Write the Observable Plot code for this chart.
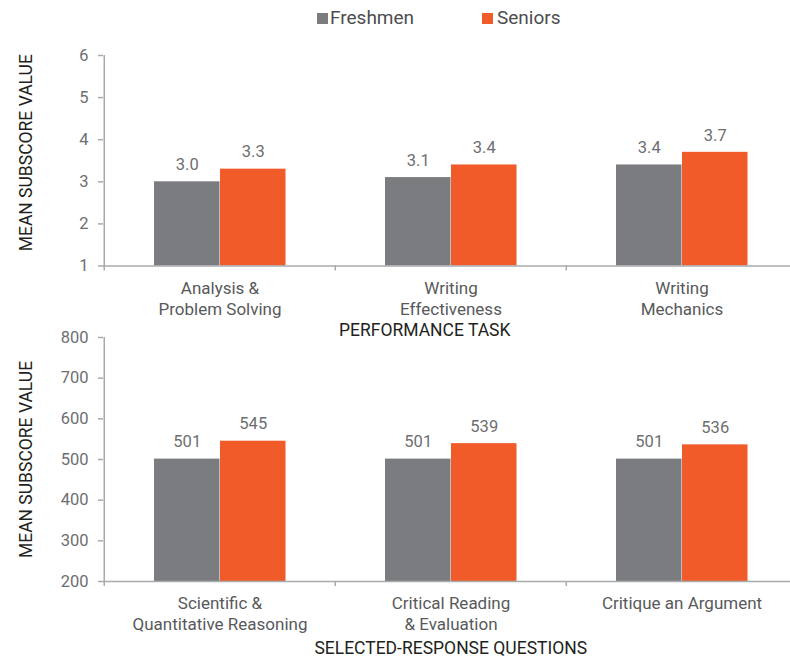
<!DOCTYPE html>
<html><head><meta charset="utf-8">
<script src="https://cdn.jsdelivr.net/npm/d3@7"></script>
<script src="https://cdn.jsdelivr.net/npm/@observablehq/plot@0.6"></script>
<style>
body{margin:0;background:#fff;width:790px;height:657px;overflow:hidden;position:relative;font-family:Roboto,sans-serif}
#legend{position:absolute;top:0;left:0;width:790px;height:35px;z-index:2}
.sw{position:absolute;top:13px;width:11px;height:11px}
.lt{position:absolute;top:6px;font-size:19px;color:#4d4d4f;line-height:23px}
svg{display:block}
</style></head><body>
<div id="legend"></div>
<div id="c1"></div><div id="c2"></div>
<script>
const series = ["Freshmen", "Seniors"];
const colors = ["#7b7c80", "#f15a29"];
const ptCategories = ["Analysis &\nProblem Solving", "Writing\nEffectiveness", "Writing\nMechanics"];
const ptFreshmen = [3.0, 3.1, 3.4];
const ptSeniors = [3.3, 3.4, 3.7];
const ptTicks = [1, 2, 3, 4, 5, 6];
const srCategories = ["Scientific &\nQuantitative Reasoning", "Critical Reading\n& Evaluation", "Critique an Argument"];
const srFreshmen = [501, 501, 501];
const srSeniors = [545, 539, 536];
const srTicks = [200, 300, 400, 500, 600, 700, 800];
const ptTitle = "PERFORMANCE TASK";
const srTitle = "SELECTED-RESPONSE QUESTIONS";
const yTitle = "MEAN SUBSCORE VALUE";

// legend
const legendPos = [[317, 330], [482, 497]];
const lg = document.getElementById("legend");
series.forEach((s, k) => {
  const sw = document.createElement("div");
  sw.className = "sw"; sw.style.left = legendPos[k][0] + "px"; sw.style.background = colors[k];
  const t = document.createElement("div");
  t.className = "lt"; t.style.left = legendPos[k][1] + "px"; t.textContent = s;
  lg.appendChild(sw); lg.appendChild(t);
});

const AX = "#a9aaad";
function chart(o) {
  const W = 790, ML = 103, MR = -7.5;
  const cats = o.cats;
  const bw = (W - ML - MR) / cats.length;
  const barW = 66, gap0 = 50;
  const insets = [[gap0, bw - gap0 - barW], [gap0 + barW, bw - gap0 - 2 * barW]];
  const vals = [o.fr, o.sr];
  const y0 = o.ticks[0], y1 = o.ticks[o.ticks.length - 1];
  const marks = [];
  series.forEach((s, k) => {
    const data = cats.map((c, i) => ({cat: c, value: vals[k][i]}));
    marks.push(Plot.barY(data, {x: "cat", y1: y0, y2: "value", fill: colors[k], insetLeft: insets[k][0], insetRight: insets[k][1]}));
    marks.push(Plot.text(data, {x: "cat", y: "value", text: d => o.fmt(d.value), dx: (insets[k][0] - insets[k][1]) / 2, dy: -17, fill: "#6d6e71", fontSize: 16.5}));
  });
  marks.push(Plot.ruleY([y0], {stroke: AX, strokeWidth: 1.5}));
  marks.push(Plot.ruleX([cats[0]], {x: d => d, y1: y1, y2: y0, dx: -bw / 2, insetBottom: -5, stroke: AX, strokeWidth: 1.5}));
  marks.push(Plot.ruleX(cats.slice(1), {x: d => d, y1: y0, y2: y0, dx: -bw / 2, insetBottom: -5, stroke: AX, strokeWidth: 1.5}));
  marks.push(Plot.axisY(o.ticks, {tickSize: 5, tickPadding: 10, stroke: AX, strokeWidth: 1.5, fill: "#6d6e71", fontSize: 16.5, label: null}));
  marks.push(Plot.axisX({tickSize: 0, tickPadding: o.pad, fill: "#58595b", fontSize: 17, lineHeight: o.lh, label: null}));
  marks.push(Plot.text([o.title], {text: d => d, frameAnchor: "bottom", lineAnchor: "middle", textAnchor: "middle", dx: o.tdx, dy: o.tdy, fill: "#231f20", fontSize: 17.5}));
  marks.push(Plot.text([yTitle], {text: d => d, frameAnchor: "left", textAnchor: "middle", lineAnchor: "middle", rotate: -90, dx: -77, dy: o.ydy, fill: "#231f20", fontSize: 17.5}));
  return Plot.plot({
    width: W, height: o.height,
    marginLeft: ML, marginRight: MR, marginTop: o.mt, marginBottom: o.mb,
    x: {domain: cats, padding: 0, axis: null},
    y: {domain: [y0, y1], axis: null},
    style: {fontFamily: "Roboto, sans-serif", fontSize: "17px", background: "transparent", overflow: "visible"},
    marks
  });
}

document.getElementById("c1").appendChild(chart({
  cats: ptCategories, fr: ptFreshmen, sr: ptSeniors, ticks: ptTicks, fmt: d => d.toFixed(1),
  height: 336, mt: 55, mb: 70.5, pad: 13, lh: 1.25, title: ptTitle, tdx: -26, tdy: 64.5, ydy: -8
}));
document.getElementById("c2").appendChild(chart({
  cats: srCategories, fr: srFreshmen, sr: srSeniors, ticks: srTicks, fmt: d => String(d),
  height: 321, mt: 1, mb: 76, pad: 13.5, lh: 1.2, title: srTitle, tdx: 0, tdy: 67, ydy: 0
}));
</script>
</body></html>
